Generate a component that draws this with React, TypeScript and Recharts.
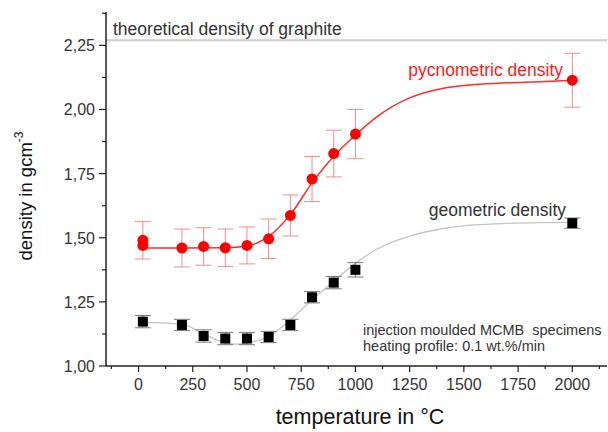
import React from "react";
import {
  ComposedChart,
  Line,
  Scatter,
  ErrorBar,
  XAxis,
  YAxis,
  ReferenceLine,
} from "recharts";

// measured points (temperature in °C)
const pycnoT = [20, 20, 200, 300, 400, 500, 600, 700, 800, 900, 1000, 2000];
const pycnoDensity = [1.49, 1.47, 1.46, 1.466, 1.461, 1.47, 1.496, 1.587, 1.729, 1.828, 1.904, 2.114];
const pycnoErr = [0.073, 0, 0.074, 0.073, 0.073, 0.072, 0.077, 0.08, 0.088, 0.091, 0.096, 0.105];

const geoT = [20, 200, 300, 400, 500, 600, 700, 800, 900, 1000, 2000];
const geoDensity = [1.173, 1.16, 1.117, 1.107, 1.107, 1.113, 1.16, 1.268, 1.325, 1.375, 1.557];
const geoErr = [0.024, 0.022, 0.024, 0.024, 0.024, 0.022, 0.022, 0.022, 0.024, 0.028, 0.02];

// fitted curves
const pycnoFitT = [20, 200, 400, 500, 600, 700, 800, 900, 1000, 1100, 1250, 1400, 1550, 1700, 1850, 2000];
const pycnoFit = [1.46, 1.46, 1.461, 1.468, 1.505, 1.59, 1.714, 1.818, 1.9, 1.972, 2.045, 2.082, 2.097, 2.104, 2.108, 2.114];

const geoFitT = [20, 200, 300, 400, 450, 500, 600, 700, 800, 900, 1000, 1100, 1250, 1400, 1550, 1700, 1850, 2000];
const geoFit = [1.17, 1.163, 1.125, 1.09, 1.085, 1.09, 1.115, 1.18, 1.258, 1.33, 1.4, 1.456, 1.506, 1.535, 1.55, 1.556, 1.559, 1.56];

const graphiteDensity = 2.27;

// axis ticks (majors get labels, the rest are minor)
const xTicks = [-125, 0, 125, 250, 375, 500, 625, 750, 875, 1000, 1125, 1250, 1375, 1500, 1625, 1750, 1875, 2000, 2125];
const xMajor = [0, 250, 500, 750, 1000, 1250, 1500, 1750, 2000];
const yTicks = [1, 1.125, 1.25, 1.375, 1.5, 1.625, 1.75, 1.875, 2, 2.125, 2.25, 2.375];
const yMajor = [1, 1.25, 1.5, 1.75, 2, 2.25];

const zip = (xs: number[], ys: number[], es?: number[]) =>
  xs.map((x, i) => ({ x, y: ys[i], err: es ? es[i] : 0 }));

const pycnoData = zip(pycnoT, pycnoDensity, pycnoErr);
const geoData = zip(geoT, geoDensity, geoErr);
const pycnoFitData = zip(pycnoFitT, pycnoFit);
const geoFitData = zip(geoFitT, geoFit);

const FONT = "'Liberation Sans', Arial, sans-serif";
const TEXT = "#333";

const fmtY = (v: number) => v.toFixed(2).replace(".", ",");

const YTick = (props: any) => {
  const { x, y, payload } = props;
  const major = yMajor.includes(payload.value);
  const len = major ? 7 : 4;
  return (
    <g>
      <line x1={x - len} x2={x} y1={y} y2={y} stroke="#222" strokeWidth={1.2} />
      {major && (
        <text x={x - 11} y={y + 6} textAnchor="end" fontSize={16} fill={TEXT} fontFamily={FONT}>
          {fmtY(payload.value)}
        </text>
      )}
    </g>
  );
};

const XTick = (props: any) => {
  const { x, y, payload } = props;
  const major = xMajor.includes(payload.value);
  const len = major ? 6 : 3;
  return (
    <g>
      <line x1={x} x2={x} y1={y} y2={y + len} stroke="#222" strokeWidth={1.2} />
      {major && (
        <text x={x} y={y + 24} textAnchor="middle" fontSize={16} fill={TEXT} fontFamily={FONT}>
          {payload.value}
        </text>
      )}
    </g>
  );
};

const TopTick = (props: any) => {
  const { x, y, payload } = props;
  const major = xMajor.includes(payload.value);
  const len = major ? 5 : 3;
  return <line x1={x} x2={x} y1={y} y2={y + len} stroke="#222" strokeWidth={1.2} />;
};

const RedDot = (props: any) => <circle cx={props.cx} cy={props.cy} r={5.5} fill="#ff0000" />;
const BlackSquare = (props: any) => (
  <rect x={props.cx - 5} y={props.cy - 5} width={10} height={10} fill="#000" />
);

export default function App() {
  return (
    <div style={{ position: "absolute", left: 0, top: 0, width: 608, height: 432, background: "#fff" }}>
      <ComposedChart width={608} height={432} margin={{ top: 12, right: 1, bottom: 36, left: 0 }}>
        <XAxis
          dataKey="x"
          type="number"
          domain={[-150, 2160]}
          allowDataOverflow
          ticks={xTicks}
          interval={0}
          tickSize={0}
          tickMargin={0}
          tickLine={false}
          tick={<XTick />}
          height={30}
          axisLine={{ stroke: "#222", strokeWidth: 1.5 }}
        />
        <XAxis
          xAxisId="top"
          orientation="top"
          dataKey="x"
          type="number"
          domain={[-150, 2160]}
          allowDataOverflow
          ticks={xTicks}
          interval={0}
          tickSize={0}
          tickMargin={0}
          tickLine={false}
          tick={<TopTick />}
          height={0}
          axisLine={{ stroke: "#222", strokeWidth: 1.5 }}
        />
        <YAxis
          type="number"
          domain={[1, 2.38]}
          allowDataOverflow
          ticks={yTicks}
          interval={0}
          tickSize={0}
          tickMargin={0}
          tickLine={false}
          tick={<YTick />}
          width={106}
          axisLine={{ stroke: "#222", strokeWidth: 1.5 }}
        />
        <ReferenceLine y={graphiteDensity} stroke="#cdcdcd" strokeWidth={2} />

        <Line
          data={geoFitData}
          dataKey="y"
          type="monotone"
          stroke="#c4c4c4"
          strokeWidth={1.3}
          dot={false}
          isAnimationActive={false}
        />
        <Line
          data={pycnoFitData}
          dataKey="y"
          type="monotone"
          stroke="#ff2a2a"
          strokeWidth={1.5}
          dot={false}
          isAnimationActive={false}
        />
        <Scatter data={geoData} dataKey="y" shape={<BlackSquare />} isAnimationActive={false}>
          <ErrorBar dataKey="err" direction="y" width={8} stroke="#777" strokeWidth={1} />
        </Scatter>
        <Scatter data={pycnoData} dataKey="y" shape={<RedDot />} isAnimationActive={false}>
          <ErrorBar dataKey="err" direction="y" width={8} stroke="#f28c8c" strokeWidth={1} />
        </Scatter>

        <g fontFamily={FONT}>
          <text x={113} y={35} fontSize={17.5} fill={TEXT}>theoretical density of graphite</text>
          <text x={563} y={76} fontSize={17.5} fill="#ff1a1a" textAnchor="end">pycnometric density</text>
          <text x={566} y={216} fontSize={17.5} fill={TEXT} textAnchor="end">geometric density</text>
          <text x={363} y={335} fontSize={14.5} fill={TEXT}>injection moulded MCMB{"\u00a0\u00a0"}specimens</text>
          <text x={363} y={351} fontSize={14.5} fill={TEXT}>heating profile: 0.1 wt.%/min</text>
          <text x={360} y={424} fontSize={21.5} fill="#111" textAnchor="middle">temperature in °C</text>
          <text x={32} y={196} fontSize={18.5} fill="#111" textAnchor="middle" transform="rotate(-90 32 196)">
            density in gcm<tspan dy={-9} fontSize={12}>-3</tspan>
          </text>
        </g>
      </ComposedChart>
    </div>
  );
}
